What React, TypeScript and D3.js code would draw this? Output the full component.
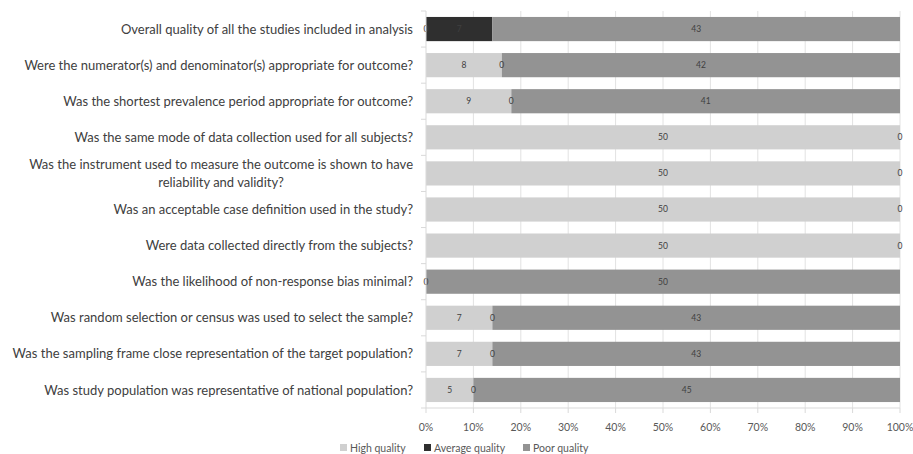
import React, { useEffect, useRef } from "react";
import * as d3 from "d3";

const questions: string[][] = [
  ["Overall quality of all the studies included in analysis"],
  ["Were the numerator(s) and denominator(s) appropriate for outcome?"],
  ["Was the shortest prevalence period appropriate for outcome?"],
  ["Was the same mode of data collection used for all subjects?"],
  ["Was the instrument used to measure the outcome is shown to have", "reliability and validity?"],
  ["Was an acceptable case definition used in the study?"],
  ["Were data collected directly from the subjects?"],
  ["Was the likelihood of non-response bias minimal?"],
  ["Was random selection or census was used to select the sample?"],
  ["Was the sampling frame close representation of the target population?"],
  ["Was study population was representative of national population?"],
];

const highQuality = [0, 8, 9, 50, 50, 50, 50, 0, 7, 7, 5];
const averageQuality = [7, 0, 0, 0, 0, 0, 0, 0, 0, 0, 0];
const poorQuality = [43, 42, 41, 0, 0, 0, 0, 50, 43, 43, 45];

const seriesNames = ["High quality", "Average quality", "Poor quality"];
const seriesColors = ["#d0d0d0", "#2f2f2f", "#939393"];
const tickValues = [0, 0.1, 0.2, 0.3, 0.4, 0.5, 0.6, 0.7, 0.8, 0.9, 1];

const W = 913;
const H = 454;
const FONT = "Lato, 'Open Sans', sans-serif";

export default function App() {
  const ref = useRef<SVGSVGElement | null>(null);

  useEffect(() => {
    const svg = d3.select(ref.current);
    svg.selectAll("*").remove();

    const left = 426;
    const right = 900;
    const top = 11;
    const bottom = 408;

    const x = d3.scaleLinear().domain([0, 1]).range([left, right]);
    const y = d3
      .scaleBand<number>()
      .domain(d3.range(questions.length))
      .range([top, bottom])
      .paddingInner(0.33)
      .paddingOuter(0.165);

    const rows = questions.map((q, i) => ({
      i,
      values: [highQuality[i], averageQuality[i], poorQuality[i]],
    }));

    // vertical gridlines
    svg
      .append("g")
      .selectAll("line")
      .data(tickValues.slice(1))
      .join("line")
      .attr("x1", (d) => x(d))
      .attr("x2", (d) => x(d))
      .attr("y1", top)
      .attr("y2", bottom)
      .attr("stroke", "#e2e2e2")
      .attr("stroke-width", 1);

    // stacked segments
    const stackG = svg.append("g");
    rows.forEach((r) => {
      const total = d3.sum(r.values);
      let acc = 0;
      r.values.forEach((v, s) => {
        const x0 = x(acc / total);
        const x1 = x((acc + v) / total);
        stackG
          .append("rect")
          .attr("x", x0)
          .attr("y", y(r.i)!)
          .attr("width", Math.max(0, x1 - x0))
          .attr("height", y.bandwidth())
          .attr("fill", seriesColors[s]);
        acc += v;
      });
    });

    // value labels (zero-width segments at the same spot share one label)
    const labelG = svg.append("g");
    rows.forEach((r) => {
      const total = d3.sum(r.values);
      let acc = 0;
      const used = new Set<string>();
      r.values.forEach((v) => {
        const cx = x((acc + v / 2) / total);
        const key = `${cx.toFixed(1)}:${v}`;
        acc += v;
        if (used.has(key)) return;
        used.add(key);
        labelG
          .append("text")
          .attr("x", cx)
          .attr("y", y(r.i)! + y.bandwidth() / 2)
          .attr("dy", "0.35em")
          .attr("text-anchor", "middle")
          .attr("font-family", FONT)
          .attr("font-size", 8.5)
          .attr("fill", "#404040")
          .text(v);
      });
    });

    // left axis line and ticks
    const axisG = svg.append("g").attr("stroke", "#d9d9d9");
    axisG
      .append("line")
      .attr("x1", left)
      .attr("x2", left)
      .attr("y1", top)
      .attr("y2", bottom);
    d3.range(questions.length + 1).forEach((k) => {
      const yy = top + ((bottom - top) * k) / questions.length;
      axisG
        .append("line")
        .attr("x1", left - 5)
        .attr("x2", left)
        .attr("y1", yy)
        .attr("y2", yy);
    });
    // bottom axis
    axisG
      .append("line")
      .attr("x1", left)
      .attr("x2", right)
      .attr("y1", bottom)
      .attr("y2", bottom);
    tickValues.forEach((t) => {
      axisG
        .append("line")
        .attr("x1", x(t))
        .attr("x2", x(t))
        .attr("y1", bottom)
        .attr("y2", bottom + 5);
    });

    // x tick labels
    svg
      .append("g")
      .selectAll("text")
      .data(tickValues)
      .join("text")
      .attr("x", (d) => x(d))
      .attr("y", 427)
      .attr("dy", "0.35em")
      .attr("text-anchor", "middle")
      .attr("font-family", FONT)
      .attr("font-size", 10.5)
      .attr("fill", "#595959")
      .text((d) => d3.format(".0%")(d));

    // category labels
    const catG = svg.append("g");
    rows.forEach((r) => {
      const lines = questions[r.i];
      const cy = y(r.i)! + y.bandwidth() / 2;
      const lh = 17.5;
      const first = catG
        .append("text")
        .attr("x", left - 13)
        .attr("y", cy - ((lines.length - 1) * lh) / 2)
        .attr("dy", "0.35em")
        .attr("text-anchor", "end")
        .attr("font-family", FONT)
        .attr("font-size", 13)
        .attr("fill", "#404040")
        .text(lines[0]);
      if (lines.length > 1) {
        const w = (first.node() as SVGTextElement).getComputedTextLength();
        const mid = left - 13 - w / 2;
        lines.slice(1).forEach((ln, k) => {
          catG
            .append("text")
            .attr("x", mid)
            .attr("y", cy - ((lines.length - 1) * lh) / 2 + (k + 1) * lh)
            .attr("dy", "0.35em")
            .attr("text-anchor", "middle")
            .attr("font-family", FONT)
            .attr("font-size", 13)
            .attr("fill", "#404040")
            .text(ln);
        });
      }
    });

    // legend
    const legendX = [340, 424, 523];
    const legendG = svg.append("g");
    seriesNames.forEach((name, s) => {
      legendG
        .append("rect")
        .attr("x", legendX[s])
        .attr("y", 444)
        .attr("width", 7)
        .attr("height", 7)
        .attr("fill", seriesColors[s]);
      legendG
        .append("text")
        .attr("x", legendX[s] + 10)
        .attr("y", 448)
        .attr("dy", "0.35em")
        .attr("font-family", FONT)
        .attr("font-size", 10.5)
        .attr("fill", "#595959")
        .text(name);
    });
  }, []);

  return (
    <svg
      ref={ref}
      width={W}
      height={H}
      style={{ position: "absolute", left: 0, top: 0, background: "#fff" }}
    />
  );
}
